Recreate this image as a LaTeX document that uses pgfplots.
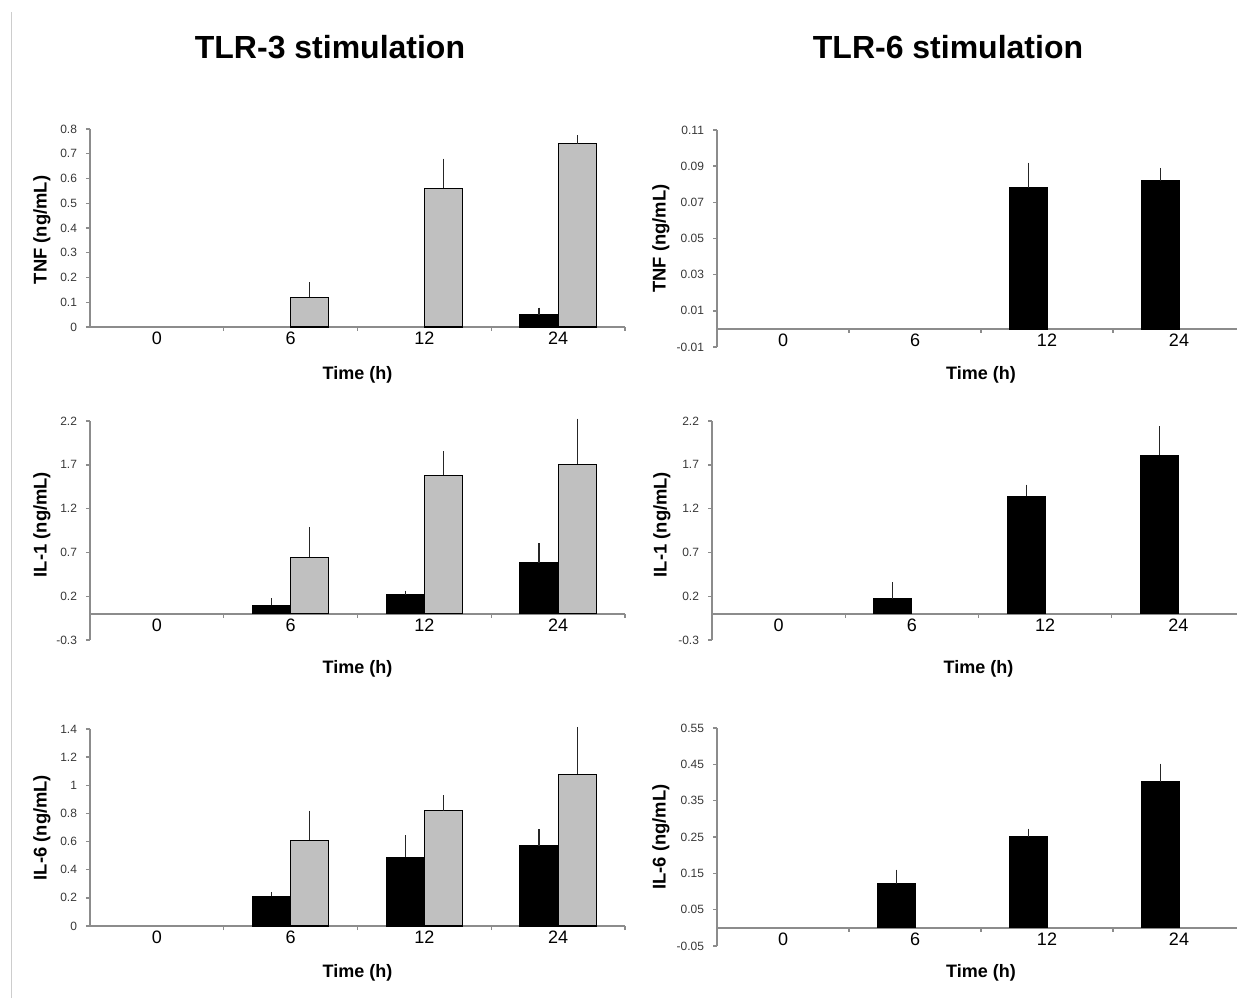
\documentclass[border=0pt]{standalone}
\usepackage{fontspec}
\setmainfont{Liberation Sans}
\usepackage{pgfplots}
\pgfplotsset{compat=1.18}

\definecolor{barg}{RGB}{192,192,192}
\definecolor{axg}{RGB}{140,140,140}
\definecolor{lblg}{RGB}{55,55,55}
\definecolor{frameg}{RGB}{205,205,205}

\tikzset{tlab/.style={font=\fontsize{9}{10}\selectfont\bfseries}}

\pgfplotsset{
  cyto/.style={
    scale only axis,
    clip=false,
    ybar, bar width=0.285,
    xmin=-0.5, xmax=3.5,
    enlargelimits=false,
    axis y line*=left,
    axis x line*=middle,
    axis line style={axg, line width=0.9pt},
    tick style={axg, line width=0.7pt},
    tick align=outside,
    major tick length=2pt,
    xtick={-0.5,0.5,1.5,2.5,3.5},
    xticklabels={,,,,},
    extra x ticks={0,1,2,3},
    extra x tick labels={0,6,12,24},
    extra x tick style={tick style={draw=none}},
    xticklabel style={font=\fontsize{9}{10}\selectfont, black, yshift=3pt},
    yticklabel style={font=\fontsize{6}{7}\selectfont, lblg, xshift=-1pt},
    ylabel style={font=\fontsize{9.2}{10}\selectfont\bfseries,
                  at={(axis description cs:0,0.5)}, anchor=center},
    error bars/y dir=plus, error bars/y explicit,
    error bars/error mark=none,
    error bars/error bar style={black!85, line width=0.6pt},
  },
  blk/.style={draw=black, line width=0.6pt, fill=black, bar shift=-0.1425},
  gry/.style={draw=black, line width=0.6pt, fill=barg, bar shift=0.1425},
}

\begin{document}
\begin{tikzpicture}
\useasboundingbox (0,0) rectangle (618.5pt,499pt);
\draw[frameg, line width=0.8pt] (5.8pt,0) -- (5.8pt,493pt);

\node[font=\fontsize{16}{19}\selectfont\bfseries] at (165pt,475.5pt) {TLR-3 stimulation};
\node[font=\fontsize{16}{19}\selectfont\bfseries] at (474pt,475.5pt) {TLR-6 stimulation};

% TLR-3, TNF
\begin{axis}[cyto, at={(45pt,335.5pt)}, anchor=south west,
    width=267.5pt, height=99pt,
    ymin=0, ymax=0.8,
    ytick={0,0.1,0.2,0.3,0.4,0.5,0.6,0.7,0.8},
    yticklabels={0,0.1,0.2,0.3,0.4,0.5,0.6,0.7,0.8},
    ylabel={TNF (ng/mL)}, ylabel style={yshift=24pt, xshift=-1pt}]
\addplot[blk] coordinates {(3,0.05) +- (0,0.028)};
\addplot[gry] coordinates {(1,0.12) +- (0,0.06) (2,0.56) +- (0,0.12) (3,0.74) +- (0,0.035)};
\node[tlab] at (axis cs:1.5,0) [yshift=-24pt] {Time (h)};
\end{axis}

% TLR-6, TNF
\begin{axis}[cyto, at={(358.5pt,325.5pt)}, anchor=south west,
    width=264pt, height=108.5pt,
    ymin=-0.01, ymax=0.11,
    ytick={-0.01,0.01,0.03,0.05,0.07,0.09,0.11},
    yticklabels={-0.01,0.01,0.03,0.05,0.07,0.09,0.11},
    ylabel={TNF (ng/mL)}, ylabel style={yshift=28pt}]
\addplot[blk] coordinates {(2,0.078) +- (0,0.014) (3,0.082) +- (0,0.007)};
\node[tlab] at (axis cs:1.5,0) [yshift=-23pt] {Time (h)};
\end{axis}

% TLR-3, IL-1
\begin{axis}[cyto, at={(45pt,179pt)}, anchor=south west,
    width=267.5pt, height=109.5pt,
    ymin=-0.3, ymax=2.2,
    ytick={-0.3,0.2,0.7,1.2,1.7,2.2},
    yticklabels={-0.3,0.2,0.7,1.2,1.7,2.2},
    ylabel={IL-1 (ng/mL)}, ylabel style={yshift=24pt, xshift=3pt}]
\addplot[blk] coordinates {(1,0.094) +- (0,0.08) (2,0.217) +- (0,0.046) (3,0.58) +- (0,0.226)};
\addplot[gry] coordinates {(1,0.642) +- (0,0.35) (2,1.58) +- (0,0.275) (3,1.706) +- (0,0.52)};
\node[tlab] at (axis cs:1.5,0) [yshift=-27.5pt] {Time (h)};
\end{axis}

% TLR-6, IL-1
\begin{axis}[cyto, at={(356pt,179pt)}, anchor=south west,
    width=266.5pt, height=109.5pt,
    ymin=-0.3, ymax=2.2,
    ytick={-0.3,0.2,0.7,1.2,1.7,2.2},
    yticklabels={-0.3,0.2,0.7,1.2,1.7,2.2},
    ylabel={IL-1 (ng/mL)}, ylabel style={yshift=25pt, xshift=3pt}]
\addplot[blk] coordinates {(1,0.172) +- (0,0.19) (2,1.34) +- (0,0.134) (3,1.81) +- (0,0.33)};
\node[tlab] at (axis cs:1.5,0) [yshift=-27.5pt] {Time (h)};
\end{axis}

% TLR-3, IL-6
\begin{axis}[cyto, at={(45pt,36pt)}, anchor=south west,
    width=267.5pt, height=98.5pt,
    ymin=0, ymax=1.4,
    ytick={0,0.2,0.4,0.6,0.8,1,1.2,1.4},
    yticklabels={0,0.2,0.4,0.6,0.8,1,1.2,1.4},
    ylabel={IL-6 (ng/mL)}, ylabel style={yshift=24pt}]
\addplot[blk] coordinates {(1,0.21) +- (0,0.033) (2,0.488) +- (0,0.158) (3,0.568) +- (0,0.118)};
\addplot[gry] coordinates {(1,0.61) +- (0,0.21) (2,0.82) +- (0,0.111) (3,1.079) +- (0,0.337)};
\node[tlab] at (axis cs:1.5,0) [yshift=-23.5pt] {Time (h)};
\end{axis}

% TLR-6, IL-6
\begin{axis}[cyto, at={(358.5pt,26pt)}, anchor=south west,
    width=264pt, height=109pt,
    ymin=-0.05, ymax=0.55,
    ytick={-0.05,0.05,0.15,0.25,0.35,0.45,0.55},
    yticklabels={-0.05,0.05,0.15,0.25,0.35,0.45,0.55},
    ylabel={IL-6 (ng/mL)}, ylabel style={yshift=28pt}]
\addplot[blk] coordinates {(1,0.122) +- (0,0.038) (2,0.25) +- (0,0.023) (3,0.402) +- (0,0.05)};
\node[tlab] at (axis cs:1.5,0) [yshift=-22.5pt] {Time (h)};
\end{axis}
\end{tikzpicture}
\end{document}
